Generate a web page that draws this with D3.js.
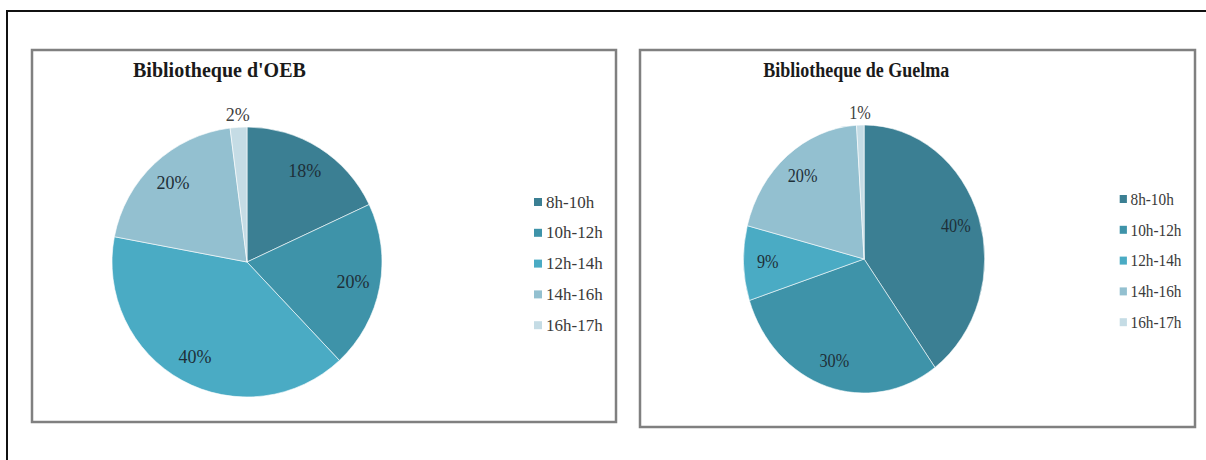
<!DOCTYPE html>
<html>
<head>
<meta charset="utf-8">
<script src="https://cdn.jsdelivr.net/npm/d3@7"></script>
<style>
  body { margin: 0; background: #fff; overflow: hidden; }
  svg { display: block; }
  text { font-family: "Liberation Serif", "Times New Roman", "DejaVu Serif", serif; }
</style>
</head>
<body>
<div id="container"></div>
<script>
// tranches horaires et parts (%)
var slots = ["8h-10h", "10h-12h", "12h-14h", "14h-16h", "16h-17h"];
var oebValues = [18, 20, 40, 20, 2];
var guelmaValues = [40, 30, 9, 20, 1];
var sliceColors = ["#3b7f93", "#3e93a9", "#4aabc4", "#93c0d0", "#c5dce5"];

var w = 1206, h = 460;
var serif = "Liberation Serif, Times New Roman, serif";

var svg = d3.select("#container").append("svg")
    .attr("width", w)
    .attr("height", h);

// cadre exterieur (seulement gauche et haut visibles)
svg.append("path")
    .attr("d", "M7," + (h + 5) + "V11H" + (w + 5))
    .attr("fill", "none")
    .attr("stroke", "#111")
    .attr("stroke-width", 2);

var color = d3.scaleOrdinal().domain(slots).range(sliceColors);

function drawChart(opts) {
    // boite du graphique
    svg.append("rect")
        .attr("x", opts.box.x).attr("y", opts.box.y)
        .attr("width", opts.box.w).attr("height", opts.box.h)
        .attr("fill", "#fff")
        .attr("stroke", "#808080")
        .attr("stroke-width", 2.5);

    var g = svg.append("g")
        .attr("transform", "translate(" + opts.box.x + "," + opts.box.y + ") scale(" + opts.sx + ",1)");

    g.append("text")
        .attr("x", opts.titleX)
        .attr("y", 27)
        .attr("font-family", serif)
        .attr("font-size", 20)
        .attr("font-weight", "bold")
        .attr("fill", "#1a1a1a")
        .text(opts.title);

    var data = slots.map(function (s, i) { return { slot: s, value: opts.values[i] }; });

    var pie = d3.pie().sort(null).value(function (d) { return d.value; });
    var arcs = pie(data);
    var R = opts.r;

    var arc = d3.arc().innerRadius(0).outerRadius(R);
    var inLabel = d3.arc().innerRadius(R * 0.8).outerRadius(R * 0.8);
    var outLabel = d3.arc().innerRadius(R * 1.09).outerRadius(R * 1.09);

    var pg = g.append("g")
        .attr("transform", "translate(" + opts.cx + "," + opts.cy + ")");

    pg.selectAll("path")
        .data(arcs)
        .enter()
        .append("path")
        .attr("d", arc)
        .attr("fill", function (d) { return color(d.data.slot); })
        .attr("stroke", "rgba(255,255,255,0.6)")
        .attr("stroke-width", 1);

    pg.selectAll("text")
        .data(arcs)
        .enter()
        .append("text")
        .attr("transform", function (d) {
            var c = d.data.value < 5 ? outLabel.centroid(d) : inLabel.centroid(d);
            return "translate(" + c[0] + "," + c[1] + ")";
        })
        .attr("text-anchor", "middle")
        .attr("dominant-baseline", "central")
        .attr("font-family", serif)
        .attr("font-size", 18)
        .attr("fill", function (d) { return d.data.value < 5 ? "#404040" : "#1e2f38"; })
        .text(function (d) { return d.data.value + "%"; });

    // legende
    var leg = g.append("g").selectAll("g")
        .data(slots)
        .enter()
        .append("g")
        .attr("transform", function (d, i) {
            return "translate(" + opts.legendX + "," + (opts.legendY + i * 30.8) + ")";
        });

    leg.append("rect")
        .attr("x", 0).attr("y", -4)
        .attr("width", 8).attr("height", 8)
        .attr("fill", function (d) { return color(d); });

    leg.append("text")
        .attr("x", 12)
        .attr("y", 0)
        .attr("dominant-baseline", "central")
        .attr("font-family", serif)
        .attr("font-size", 17)
        .attr("fill", "#3a3a3a")
        .text(function (d) { return d; });
}

drawChart({
    title: "Bibliotheque d'OEB",
    values: oebValues,
    box: { x: 32, y: 50, w: 584, h: 372 },
    sx: 1,
    titleX: 101,
    cx: 215, cy: 212, r: 135,
    legendX: 502, legendY: 152
});

drawChart({
    title: "Bibliotheque de Guelma",
    values: guelmaValues,
    box: { x: 640, y: 50, w: 555, h: 377 },
    sx: 0.9,
    titleX: 137,
    cx: 249, cy: 209, r: 134,
    legendX: 533, legendY: 149
});
</script>
</body>
</html>
